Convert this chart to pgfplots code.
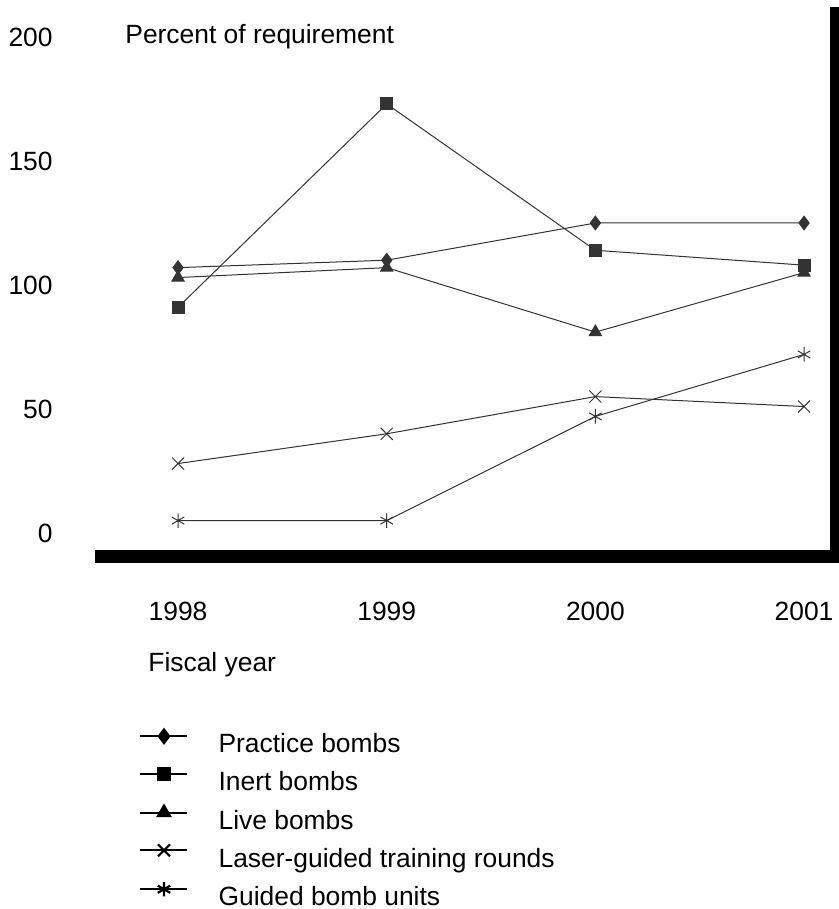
\documentclass[border=0pt]{standalone}
\usepackage{pgfplots}
\pgfplotsset{compat=1.18}
\usepackage{fontspec}
\setmainfont{Liberation Sans}

\begin{document}
\fontsize{13.2}{16}\selectfont
\begin{tikzpicture}[font=\fontsize{13.2}{16}\selectfont]
\useasboundingbox (-47.5pt,-176.25pt) rectangle (372pt,278.25pt);
\begin{axis}[
    at={(0pt,0pt)}, anchor=south west,
    scale only axis, width=369.75pt, height=274.75pt,
    xmin=1997.602, xmax=2001.146,
    ymin=-9.48, ymax=212.1,
    axis x line*=bottom, axis y line*=left,
    axis line style={draw=none},
    xtick={1998,1999,2000,2001},
    ytick={0,50,100,150,200},
    major tick length=0pt, tick style={draw=none},
    /pgf/number format/assume math mode=true,
    /pgf/number format/1000 sep={},
    xticklabel style={anchor=north, inner sep=0pt, yshift=-22.75pt},
    yticklabel style={anchor=east, inner sep=0pt, xshift=-21pt},
    clip=false,
    every axis plot/.append style={line width=0.5pt, color=black!80},
    legend cell align=left,
    legend style={draw=none, fill=none, inner sep=0pt,
        at={(axis description cs:0.0595,-0.314)}, anchor=north west,
        row sep=4.7pt, column sep=15pt,
        nodes={inner sep=0pt, text height=9.5pt, text depth=2.8pt}},
    legend image code/.code={
        \draw[mark repeat=2, mark phase=2, #1, black, line width=1.1pt]
            plot coordinates {(0pt,5pt) (11.75pt,5pt) (23.5pt,5pt)};
    },
]

\addplot[mark=diamond*, mark size=3.4pt]
    coordinates {(1998,107) (1999,110) (2000,125) (2001,125)};
\addplot[mark=square*, mark size=3pt]
    coordinates {(1998,91) (1999,173) (2000,114) (2001,108)};
\addplot[mark=triangle*, mark size=3.5pt]
    coordinates {(1998,103) (1999,107) (2000,81) (2001,105)};
\addplot[mark=x, mark size=4.25pt]
    coordinates {(1998,28) (1999,40) (2000,55) (2001,51)};
\addplot[mark=asterisk, mark size=3.6pt]
    coordinates {(1998,5) (1999,5) (2000,47) (2001,72)};

\legend{Practice bombs, Inert bombs, Live bombs, Laser-guided training rounds, Guided bomb units}
\end{axis}

% heavy bottom and right frame
\fill[black] (0pt,-3.25pt) rectangle (372pt,3.25pt);
\fill[black] (367.5pt,-3.25pt) rectangle (372pt,274.75pt);

\node[anchor=base west, inner sep=0pt] at (15pt,256.25pt) {Percent of requirement};
\node[anchor=base west, inner sep=0pt] at (26.5pt,-57.75pt) {Fiscal year};
\end{tikzpicture}
\end{document}
